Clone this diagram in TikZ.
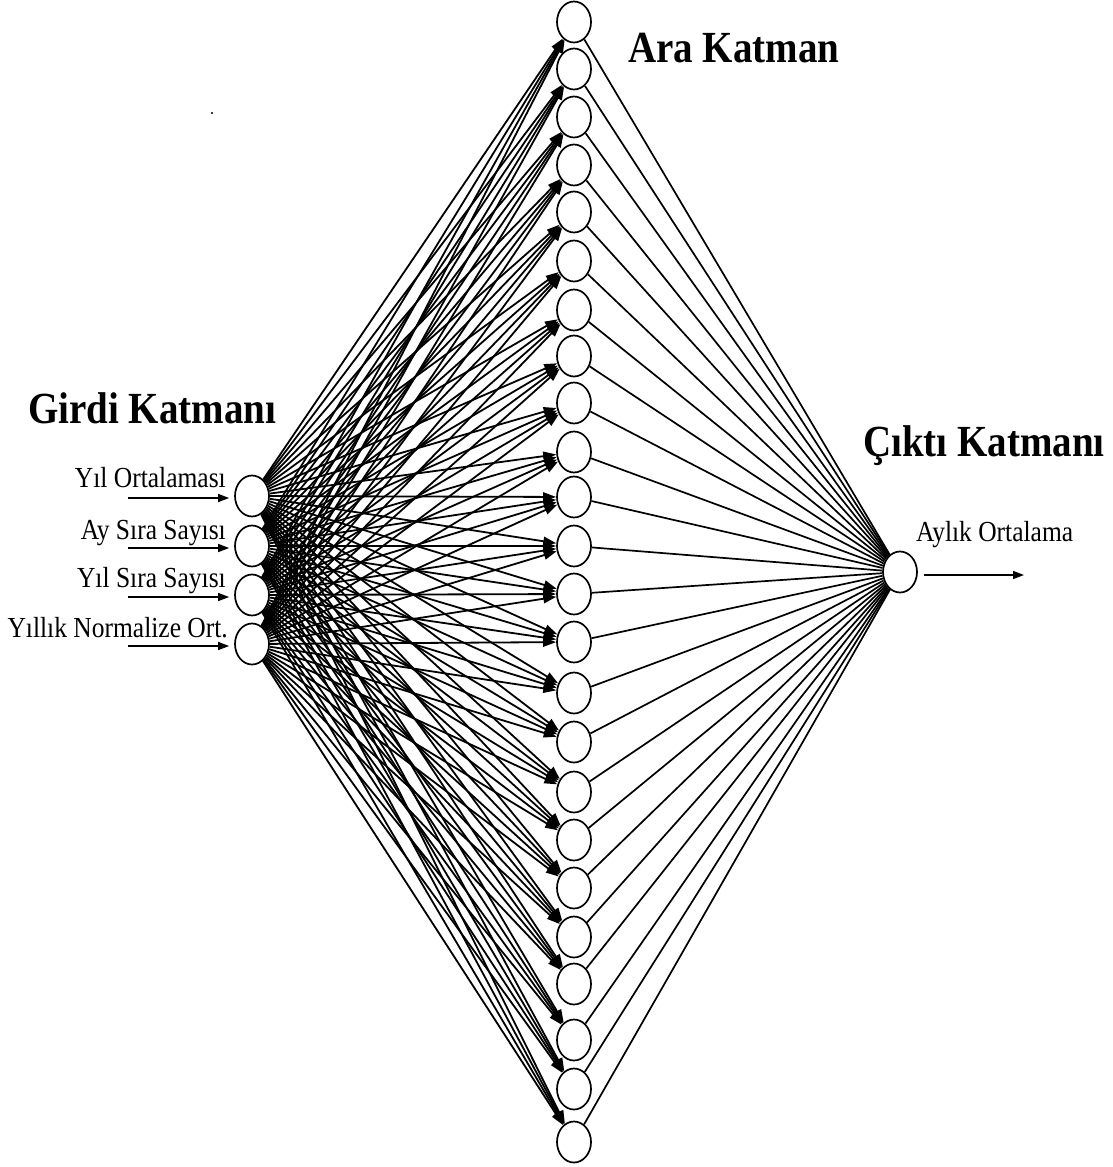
\documentclass[tikz,border=0pt]{standalone}
\usepackage{fontspec}
\usepackage{graphicx}
\setmainfont{Liberation Serif}
\usetikzlibrary{shapes.geometric,arrows.meta}
\newcommand{\tallt}[1]{\scalebox{1}[1.14]{#1}}
\begin{document}
\begin{tikzpicture}[x=1pt,y=-1pt,
  neuron/.style={ellipse,draw,line width=1.7pt,minimum width=34pt,minimum height=41pt,inner sep=0pt,fill=white},
  conn/.style={line width=1.7pt},
  arr/.style={line width=1.8pt,-{Triangle[length=13pt,width=9pt]}},
  inarr/.style={line width=1.4pt,-{Triangle[length=11pt,width=8pt]}},
  lbl/.style={font=\fontsize{25.5}{28}\selectfont,inner sep=0pt},
  ttl/.style={font=\fontsize{39}{44}\selectfont\bfseries,inner sep=0pt}]
\useasboundingbox (0,0) rectangle (1113,1167);
% hidden layer
\foreach \y [count=\j] in {22,69,117,165,212,261,310,356,403,452,497,546,594,642,693,742,792,840,888,937,984,1040,1089,1142}
  \node[neuron] (h\j) at (574,\y) {};
% input layer
\foreach \y [count=\i] in {496,546,595,644}{
  \node[neuron] (i\i) at (252,\y) {};
  \coordinate (s\i) at (128,\y+2);
}
% output
\node[neuron] (o) at (900,572) {};
\coordinate (t) at (1024,575);
% connections
\foreach \i in {1,...,4}
  \foreach \j in {1,...,24}
    \draw[arr] (i\i) -- (h\j);
\foreach \j in {1,...,24}
  \draw[conn] (h\j) -- (o);
\foreach \i in {1,...,4}
  \draw[inarr,shorten >=5pt] (s\i) -- (s\i -| i\i.west);
\draw[inarr,shorten <=6pt] (o.east |- t) -- (t);
% labels
\node[lbl,anchor=base east] (l1) at (226,487) {\tallt{Yıl Ortalaması}};
\node[lbl,anchor=base east] (l2) at (226,539) {\tallt{Ay Sıra Sayısı}};
\node[lbl,anchor=base east] (l3) at (226,587) {\tallt{Yıl Sıra Sayısı}};
\node[lbl,anchor=base east] (l4) at (228,637) {\tallt{Yıllık Normalize Ort.}};
\node[lbl,anchor=base west] (l5) at (916,541) {\tallt{Aylık Ortalama}};
% titles
\node[ttl,anchor=base west] (g) at (28,423) {\tallt{Girdi Katmanı}};
\node[ttl,anchor=base west] (a) at (628,62) {\tallt{Ara Katman}};
\node[ttl,anchor=base west] (c) at (863,456) {\tallt{Çıktı Katmanı}};
% stray dot
\fill (212,113) circle (1.2pt);
\end{tikzpicture}
\end{document}
